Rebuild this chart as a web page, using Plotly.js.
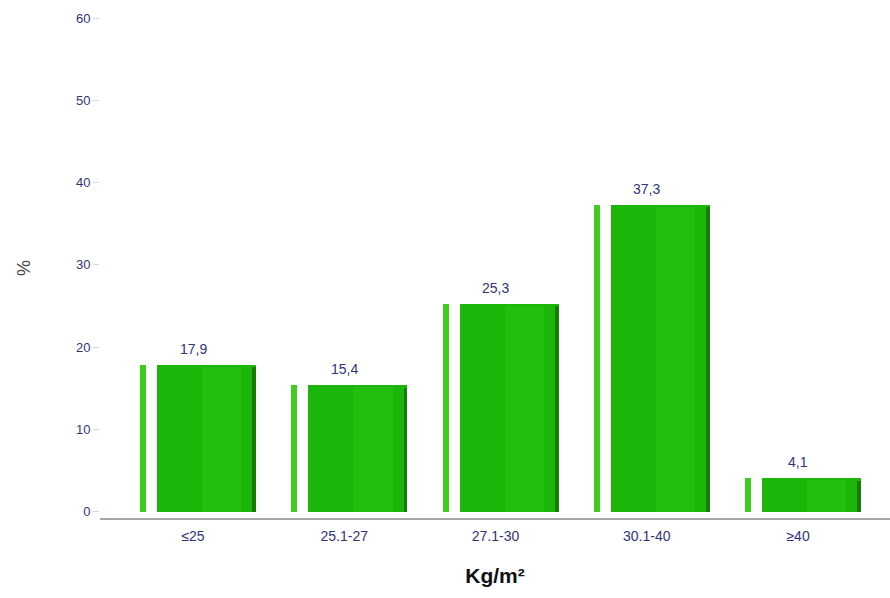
<!DOCTYPE html>
<html>
<head>
<meta charset="utf-8">
<script src="https://cdn.plot.ly/plotly-3.0.1.min.js"></script>
<style>html,body{margin:0;padding:0;background:#fff;}#chart{width:890px;height:598px;}</style>
</head>
<body>
<div id="chart"></div>
<script>
const categories = ['≤25', '25.1-27', '27.1-30', '30.1-40', '≥40'];
const values = [17.9, 15.4, 25.3, 37.3, 4.1];
const valueLabels = ['17,9', '15,4', '25,3', '37,3', '4,1'];
const yTicks = [0, 10, 20, 30, 40, 50, 60];

const xs = categories.map((c, i) => i);
const textColor = '#33337a';
const fontFam = 'Liberation Sans, Arial, sans-serif';

const traces = [
  { // thin stripe left of each bar
    type: 'bar', x: xs, y: values, width: 0.04, offset: -0.35,
    marker: {color: '#3fcc1c', line: {width: 0}}, hoverinfo: 'skip', showlegend: false
  },
  { // main bar
    type: 'bar', x: xs, y: values, width: 0.655, offset: -0.238,
    marker: {color: '#1cb60a', line: {width: 0}}, showlegend: false
  },
  { // slightly lighter band inside bar
    type: 'bar', x: xs, y: values.map(v => v - 0.25), width: 0.26, offset: 0.06,
    marker: {color: '#23bf0e', line: {width: 0}}, hoverinfo: 'skip', showlegend: false
  },
  { // dark right edge
    type: 'bar', x: xs, y: values.map(v => v - 0.3), width: 0.025, offset: 0.392,
    marker: {color: '#157d08', line: {width: 0}}, hoverinfo: 'skip', showlegend: false
  }
];

const annotations = xs.map((x, i) => ({
  x: x, y: values[i], xref: 'x', yref: 'y',
  text: valueLabels[i], showarrow: false,
  yanchor: 'bottom', yshift: 6,
  font: {family: fontFam, size: 14, color: textColor}
}));

const layout = {
  width: 890, height: 598,
  margin: {l: 100, r: 0, t: 18, b: 80},
  paper_bgcolor: '#ffffff', plot_bgcolor: '#ffffff',
  barmode: 'overlay',
  bargap: 0,
  font: {family: fontFam, color: textColor},
  annotations: annotations,
  xaxis: {
    range: [-0.615, 4.608],
    tickmode: 'array', tickvals: xs, ticktext: categories,
    tickfont: {size: 14, color: textColor},
    showgrid: false, zeroline: false,
    showline: true, linecolor: '#a9a3aa', linewidth: 2,
    ticks: '', ticklabelstandoff: 4,
    title: {text: '<b>Kg/m²</b>', font: {size: 21, color: '#111111'}, standoff: 26},
    fixedrange: true
  },
  yaxis: {
    range: [-0.75, 60],
    tickmode: 'array', tickvals: yTicks, ticktext: yTicks.map(String),
    tickfont: {size: 13, color: textColor},
    showgrid: false, zeroline: false, showline: false,
    ticks: 'outside', ticklen: 6, tickcolor: '#d8d6ee', tickwidth: 1,
    title: {text: '%', font: {size: 18, color: '#444444'}, standoff: 40},
    fixedrange: true
  }
};

Plotly.newPlot('chart', traces, layout, {displayModeBar: false, staticPlot: true});
</script>
</body>
</html>
